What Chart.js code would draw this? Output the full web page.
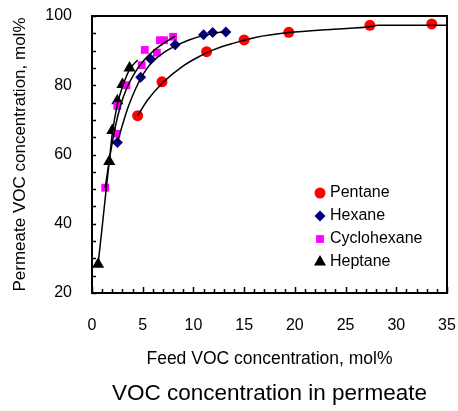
<!DOCTYPE html>
<html lang="en">
<head>
    <meta charset="UTF-8">
    <title>VOC concentration in permeate</title>
    <style>
        html, body { margin: 0; padding: 0; background: #fff; }
        #wrap { width: 458px; height: 411px; }
    </style>
</head>
<body>
    <div id="wrap"><canvas id="vocChart" width="458" height="411"></canvas></div>

    <script src="https://cdn.jsdelivr.net/npm/chart.js"></script>
    <script>
        // measured points: feed VOC mol% (x) vs permeate VOC mol% (y)
        const pentaneX = [4.5, 6.9, 11.3, 15.0, 19.4, 27.4, 33.5];
        const pentaneY = [71.2, 81.0, 89.7, 93.1, 95.3, 97.3, 97.7];

        const hexaneX = [2.5, 4.8, 5.8, 8.2, 11.0, 11.9, 13.2];
        const hexaneY = [63.5, 82.3, 87.5, 91.7, 94.6, 95.2, 95.4];

        const cyclohexaneX = [1.3, 2.4, 2.5, 3.4, 4.9, 5.2, 6.4, 6.7, 7.1, 8.0];
        const cyclohexaneY = [50.4, 66.0, 74.0, 80.0, 85.8, 90.2, 89.4, 93.0, 93.0, 94.0];

        const heptaneX = [0.6, 1.7, 2.0, 2.5, 3.0, 3.7];
        const heptaneY = [28.3, 58.0, 66.9, 75.5, 80.2, 85.0];

        // fitted curves
        const pentaneFitX = [4.5, 5.5, 7, 9, 10.7, 12, 13.9, 16.1, 19.4, 23.8, 27.4, 28.2, 35];
        const pentaneFitY = [71.2, 75.8, 80.8, 85.6, 88.5, 90.3, 92.1, 93.8, 95.2, 96.2, 96.9, 97.3, 97.3];

        const hexaneFitX = [2.5, 3, 3.6, 4.3, 5, 5.8, 7, 8.2, 9.5, 11, 12, 13.2];
        const hexaneFitY = [63.3, 68.5, 74, 79, 83, 86.3, 89.3, 91.3, 93, 94.4, 95, 95.6];

        const cyclohexaneFitX = [1.3, 1.8, 2.3, 2.8, 3.4, 4.2, 5, 6, 7, 8.2];
        const cyclohexaneFitY = [50.4, 60, 68, 74, 79, 83.5, 86.8, 89.8, 92, 94.2];

        const heptaneFitX = [0.6, 1.0, 1.4, 1.7, 2.0, 2.5, 3.0, 3.7, 4.5];
        const heptaneFitY = [28.3, 39, 50, 58, 66, 74.5, 79.5, 84.5, 87.3];

        const xTicks = [0, 5, 10, 15, 20, 25, 30, 35];
        const yTicks = [20, 40, 60, 80, 100];

        const toPoints = (xs, ys) => xs.map((x, i) => ({ x: x, y: ys[i] }));

        function fitLine(xs, ys) {
            return {
                type: 'line',
                data: toPoints(xs, ys),
                borderColor: '#000',
                borderWidth: 1.5,
                pointRadius: 0,
                cubicInterpolationMode: 'monotone',
                fill: false,
                isFit: true
            };
        }

        function markers(label, xs, ys, color, style, radius) {
            return {
                type: 'scatter',
                label: label,
                data: toPoints(xs, ys),
                backgroundColor: color,
                borderColor: color,
                borderWidth: 0,
                pointStyle: style,
                pointRadius: radius,
                pointHoverRadius: radius
            };
        }

        // inward tick marks + closed frame
        const framePlugin = {
            id: 'frame',
            afterDatasetsDraw(chart) {
                const { ctx, chartArea: a, scales: { x, y } } = chart;
                ctx.save();
                ctx.strokeStyle = '#000';
                ctx.lineWidth = 1.5;
                ctx.beginPath();
                for (let v = 20; v <= 100; v += 5) {
                    const py = Math.round(y.getPixelForValue(v)) + 0.5;
                    ctx.moveTo(a.left, py);
                    ctx.lineTo(a.left + 4, py);
                }
                for (let v = 0; v <= 35; v += 1) {
                    const px = Math.round(x.getPixelForValue(v)) + 0.5;
                    ctx.moveTo(px, a.bottom);
                    ctx.lineTo(px, a.bottom - (v % 5 === 0 ? 6 : 4));
                }
                ctx.stroke();
                ctx.lineWidth = 2;
                ctx.strokeRect(a.left, a.top, a.right - a.left, a.bottom - a.top);
                ctx.restore();
            }
        };

        // legend inside the plot
        const legendPlugin = {
            id: 'insideLegend',
            afterDraw(chart) {
                const ctx = chart.ctx;
                const rows = chart.data.datasets.filter(d => !d.isFit);
                ctx.save();
                ctx.font = '16px "Liberation Sans", Arial, sans-serif';
                ctx.textBaseline = 'middle';
                rows.forEach((d, i) => {
                    const ly = 193 + i * 23;
                    ctx.fillStyle = d.backgroundColor;
                    Chart.helpers.drawPoint(ctx, {
                        pointStyle: d.pointStyle,
                        radius: d.pointRadius,
                        rotation: 0,
                        borderWidth: 0
                    }, 320, ly);
                    ctx.fillStyle = '#000';
                    ctx.fillText(d.label, 330, ly);
                });
                ctx.restore();
            }
        };

        const fontFamily = '"Liberation Sans", Arial, sans-serif';
        const tickFont = { family: fontFamily, size: 16 };

        new Chart(document.getElementById('vocChart').getContext('2d'), {
            data: {
                datasets: [
                    fitLine(pentaneFitX, pentaneFitY),
                    fitLine(hexaneFitX, hexaneFitY),
                    fitLine(cyclohexaneFitX, cyclohexaneFitY),
                    fitLine(heptaneFitX, heptaneFitY),
                    markers('Pentane', pentaneX, pentaneY, '#ff0000', 'circle', 5.5),
                    markers('Hexane', hexaneX, hexaneY, '#000080', 'rectRot', 5.5),
                    markers('Cyclohexane', cyclohexaneX, cyclohexaneY, '#ff00ff', 'rect', 5.5),
                    markers('Heptane', heptaneX, heptaneY, '#000000', 'triangle', 7)
                ]
            },
            options: {
                responsive: false,
                animation: false,
                devicePixelRatio: 1,
                layout: { padding: { top: 16, right: 11, left: 0, bottom: 0 } },
                plugins: {
                    legend: { display: false },
                    tooltip: { enabled: false },
                    title: {
                        display: true,
                        fullSize: false,
                        position: 'bottom',
                        text: 'VOC concentration in permeate',
                        color: '#000',
                        font: { family: fontFamily, size: 22.5, weight: 'normal', lineHeight: 1.2 },
                        padding: { top: 10.5, bottom: 4 }
                    }
                },
                scales: {
                    x: {
                        type: 'linear',
                        min: 0,
                        max: 35,
                        afterFit: s => { s.height = 76.5; s.paddingLeft = 0; s.paddingRight = 0; },
                        afterBuildTicks: s => { s.ticks = xTicks.map(v => ({ value: v })); },
                        grid: { display: false, drawTicks: false },
                        border: { display: false },
                        ticks: { color: '#000', font: tickFont, padding: 23, maxRotation: 0 },
                        title: {
                            display: true,
                            text: 'Feed VOC concentration, mol%',
                            color: '#000',
                            font: { family: fontFamily, size: 17.5, lineHeight: 1.2 },
                            padding: { top: 4, bottom: 0 }
                        }
                    },
                    y: {
                        type: 'linear',
                        min: 20,
                        max: 100,
                        afterFit: s => { s.width = 92; s.paddingTop = 0; s.paddingBottom = 0; },
                        afterBuildTicks: s => { s.ticks = yTicks.map(v => ({ value: v })); },
                        grid: { display: false, drawTicks: false },
                        border: { display: false },
                        ticks: { color: '#000', font: tickFont, padding: 20 },
                        title: {
                            display: true,
                            text: 'Permeate VOC concentration, mol%',
                            color: '#000',
                            font: { family: fontFamily, size: 17 },
                            padding: { top: 10, bottom: 0 }
                        }
                    }
                }
            },
            plugins: [framePlugin, legendPlugin]
        });
    </script>
</body>
</html>
